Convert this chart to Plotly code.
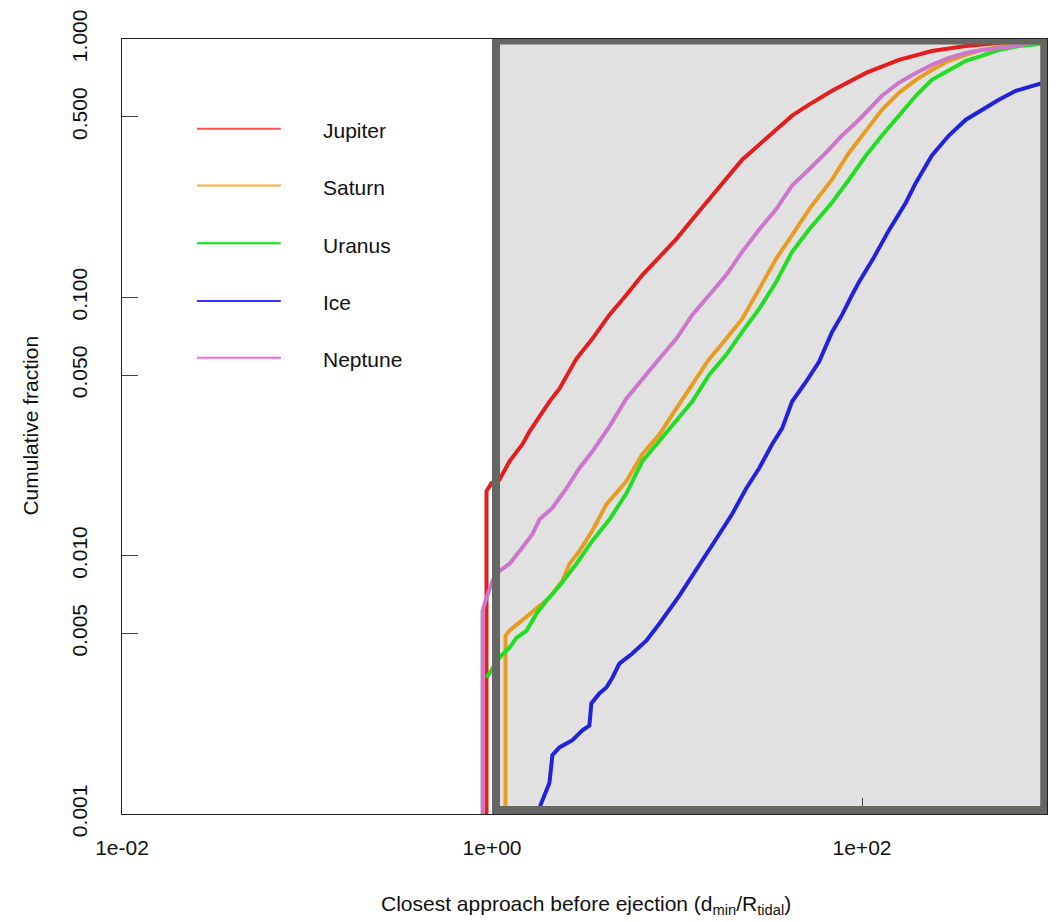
import plotly.graph_objects as go

# Cumulative distributions of closest approach (d_min / R_tidal) before ejection
jupiter_x = [0.934, 0.934, 0.994, 1.098, 1.243, 1.461, 1.594, 1.873, 2.044, 2.314, 2.858,
             3.487, 4.309, 5.321, 6.493, 8.023, 9.908, 12.09, 14.94, 18.45, 22.50, 27.80,
             34.34, 41.90, 51.75, 68.89, 105.1, 158.4, 238.7, 364.2, 549.0, 704.0, 1000.0]
jupiter_y = [0.0008, 0.0178, 0.0191, 0.0197, 0.0232, 0.0270, 0.0302, 0.0361, 0.0395, 0.0443,
             0.0578, 0.0691, 0.0855, 0.1021, 0.122, 0.143, 0.168, 0.200, 0.239, 0.286, 0.341,
             0.390, 0.446, 0.505, 0.557, 0.630, 0.739, 0.830, 0.899, 0.940, 0.965, 0.982, 1.0]

saturn_x = [1.183, 1.183, 1.243, 1.407, 1.594, 1.805, 2.044, 2.403, 2.620, 2.967, 3.487,
            4.151, 5.321, 6.493, 8.023, 9.908, 12.09, 14.94, 18.45, 22.50, 27.80, 34.34,
            41.90, 51.75, 68.89, 85.09, 105.1, 128.2, 158.4, 195.6, 238.7, 294.8, 364.2,
            444.4, 678.2, 1000.0]
saturn_y = [0.0008, 0.00490, 0.00512, 0.00550, 0.00596, 0.00640, 0.00687, 0.00799, 0.00929,
            0.0104, 0.0125, 0.0158, 0.0194, 0.0247, 0.0294, 0.0371, 0.0459, 0.0578, 0.0691,
            0.0825, 0.1076, 0.141, 0.174, 0.219, 0.286, 0.363, 0.442, 0.532, 0.619, 0.695,
            0.759, 0.823, 0.868, 0.907, 0.957, 0.995]

uranus_x = [0.934, 1.098, 1.243, 1.356, 1.535, 1.739, 1.969, 2.314, 2.858, 3.487, 4.309,
            5.321, 6.493, 8.023, 9.908, 12.09, 14.94, 18.45, 22.50, 27.80, 34.34, 41.90,
            51.75, 68.89, 85.09, 105.1, 128.2, 158.4, 195.6, 238.7, 294.8, 364.2, 444.4,
            549.0, 704.0, 903.0, 1000.0]
uranus_y = [0.00337, 0.00403, 0.00440, 0.00481, 0.00512, 0.00596, 0.00669, 0.00764, 0.00929,
            0.0114, 0.0138, 0.0174, 0.0232, 0.0277, 0.0331, 0.0395, 0.0502, 0.0599, 0.0735,
            0.0902, 0.1146, 0.150, 0.183, 0.233, 0.286, 0.354, 0.423, 0.505, 0.603, 0.695,
            0.759, 0.823, 0.860, 0.907, 0.940, 0.957, 0.99]

ice_x = [1.761, 1.827, 2.044, 2.121, 2.314, 2.720, 3.080, 3.360, 3.444, 3.805, 4.151, 4.473,
         4.879, 5.734, 6.823, 8.023, 10.28, 12.39, 14.94, 16.91, 19.87, 23.65, 27.80, 32.68,
         37.00, 41.90, 49.86, 58.60, 68.89, 77.98, 88.32, 96.34, 116.1, 139.9, 172.8, 195.6,
         238.7, 294.8, 364.2, 444.4, 549.0, 678.2, 827.6, 1000.0]
ice_y = [0.0008, 0.00108, 0.00132, 0.00169, 0.00181, 0.00193, 0.00211, 0.00220, 0.00268,
         0.00293, 0.00309, 0.00337, 0.00382, 0.00418, 0.00469, 0.00545, 0.00699, 0.00857,
         0.0104, 0.0121, 0.0145, 0.0182, 0.0218, 0.0270, 0.0311, 0.0395, 0.0472, 0.0563,
         0.0735, 0.0855, 0.1021, 0.1146, 0.143, 0.182, 0.233, 0.278, 0.354, 0.423, 0.487,
         0.532, 0.582, 0.630, 0.659, 0.683]

neptune_x = [0.889, 0.889, 0.934, 1.006, 1.098, 1.243, 1.407, 1.654, 1.805, 2.121, 2.525,
             2.967, 3.487, 4.309, 5.321, 6.493, 8.023, 9.908, 12.09, 14.94, 18.45, 22.50,
             27.80, 34.34, 41.90, 51.75, 63.92, 77.98, 96.34, 128.2, 158.4, 195.6, 238.7,
             294.8, 364.2, 444.4, 678.2, 1000.0]
neptune_y = [0.0008, 0.00612, 0.00687, 0.00799, 0.00873, 0.00929, 0.0104, 0.0121, 0.0138,
             0.0153, 0.0182, 0.0218, 0.0253, 0.0316, 0.0405, 0.0484, 0.0578, 0.0691, 0.0855,
             0.1021, 0.122, 0.150, 0.183, 0.219, 0.271, 0.313, 0.363, 0.423, 0.487, 0.603,
             0.677, 0.739, 0.794, 0.845, 0.883, 0.907, 0.940, 0.995]

names = ["Jupiter", "Saturn", "Uranus", "Ice", "Neptune"]
series_x = [jupiter_x, saturn_x, uranus_x, ice_x, neptune_x]
series_y = [jupiter_y, saturn_y, uranus_y, ice_y, neptune_y]
line_colors = ["#e41e1e", "#e89c22", "#22dd22", "#2222dd", "#cc77cc"]
key_colors = ["#ff5050", "#ffaa33", "#00ee00", "#3333ff", "#ee66ee"]

x_ticks = [0.01, 1, 100]
x_tick_labels = ["1e-02", "1e+00", "1e+02"]
y_ticks = [0.001, 0.005, 0.010, 0.050, 0.100, 0.500, 1.000]
y_tick_labels = ["0.001", "0.005", "0.010", "0.050", "0.100", "0.500", "1.000"]

# highlighted region (data units)
region_x = [1.051, 966.0]
region_y = [0.001036, 0.987]

FONT = "Liberation Sans, Arial, Helvetica, sans-serif"
W, H = 1058, 922
ML, MR, MT, MB = 122, 10, 36, 108
PW, PH = W - ML - MR, H - MT - MB


def px(xp):
    return (xp - ML) / PW


def py(yp):
    return (H - MB - yp) / PH


fig = go.Figure()
for name, xs, ys, c in zip(names, series_x, series_y, line_colors):
    fig.add_trace(go.Scatter(x=xs, y=ys, mode="lines", name=name,
                             line=dict(color=c, width=4), showlegend=False,
                             hoverinfo="skip"))

# shaded region: fill under the curves, frame above them
fig.add_shape(type="rect", xref="x", yref="y",
              x0=region_x[0], x1=region_x[1], y0=region_y[0], y1=region_y[1],
              fillcolor="#e1e1e1", line=dict(width=0), layer="below")
fig.add_shape(type="rect", xref="x", yref="y",
              x0=region_x[0], x1=region_x[1], y0=region_y[0], y1=region_y[1],
              fillcolor="rgba(0,0,0,0)", line=dict(color="#666662", width=8),
              layer="above")

# key drawn inside the plot
key_x0, key_x1, key_text_x = 197, 281, 321
key_rows = [126, 183, 241, 299, 356]
for name, c, yr in zip(names, key_colors, key_rows):
    fig.add_shape(type="line", xref="paper", yref="paper",
                  x0=px(key_x0), x1=px(key_x1), y0=py(yr), y1=py(yr),
                  line=dict(color=c, width=2))
    fig.add_annotation(xref="paper", yref="paper", x=px(key_text_x), y=py(yr + 2),
                       text=name, showarrow=False, xanchor="left", yanchor="middle",
                       font=dict(family=FONT, size=21, color="#111111"))

# axis titles
fig.add_annotation(xref="paper", yref="paper", x=px(587), y=py(905),
                   text="Closest approach before ejection (d<sub>min</sub>/R<sub>tidal</sub>)",
                   showarrow=False, xanchor="center", yanchor="middle",
                   font=dict(family=FONT, size=21, color="#111111"))
fig.add_annotation(xref="paper", yref="paper", x=px(30), y=py(424),
                   text="Cumulative fraction", textangle=-90,
                   showarrow=False, xanchor="center", yanchor="middle",
                   font=dict(family=FONT, size=21, color="#111111"))

axis_common = dict(showgrid=False, zeroline=False, showline=True, mirror=True,
                   linecolor="#222222", linewidth=1, ticks="inside", ticklen=16,
                   tickwidth=1, tickcolor="#444444",
                   tickfont=dict(family=FONT, size=21, color="#111111"))

fig.update_xaxes(type="log", range=[-2, 3], tickmode="array", tickvals=x_ticks,
                 ticktext=x_tick_labels, ticklabelstandoff=15, **axis_common)
fig.update_yaxes(type="log", range=[-3, 0], tickmode="array", tickvals=y_ticks,
                 ticktext=y_tick_labels, tickangle=-90, ticklabelstandoff=26,
                 **axis_common)

fig.update_layout(width=W, height=H, margin=dict(l=ML, r=MR, t=MT, b=MB),
                  paper_bgcolor="white", plot_bgcolor="white",
                  font=dict(family=FONT), showlegend=False)

fig.write_html("out.html", config={"displayModeBar": False})
